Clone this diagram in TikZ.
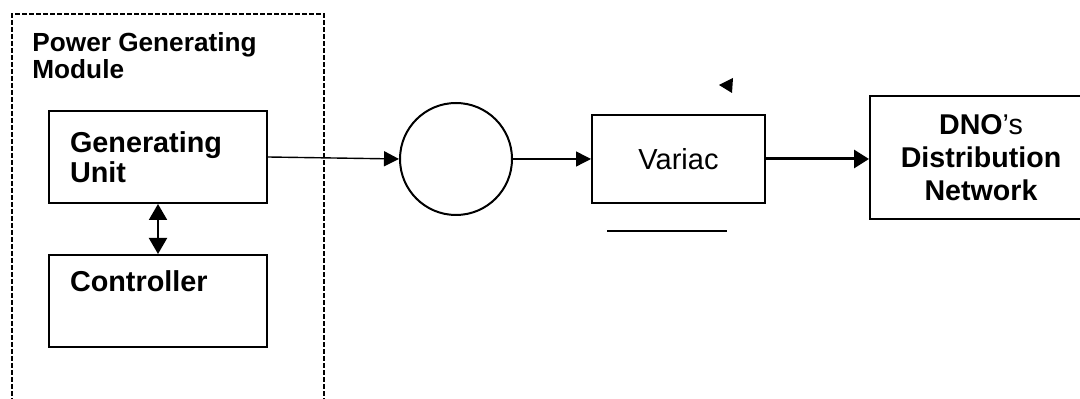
\documentclass[tikz,border=0pt]{standalone}
\usepackage{fontspec}
\setmainfont{Liberation Sans}
\usetikzlibrary{arrows.meta,positioning}
\definecolor{ink}{HTML}{000000}
\tikzset{
  unit/.style={draw=ink, line width=1pt, inner ysep=0pt, inner xsep=10.5pt,
               text width=88pt, minimum height=46pt, align=left,
               font=\bfseries\fontsize{14.4}{15}\selectfont},
  stage/.style={draw=ink, line width=1pt, inner sep=0pt, align=center},
  module/.style={draw=ink, line width=0.8pt, dash pattern=on 2.5pt off 1pt, inner sep=0pt},
  flow/.style={-{Triangle[length=7.5pt,width=7.5pt]}, line width=0.7pt, draw=ink},
  power/.style={-{Triangle[length=7.5pt,width=9pt]}, line width=1.5pt, draw=ink},
  link/.style={{Triangle[length=8pt,width=9pt]}-{Triangle[length=8pt,width=9pt]},
               line width=1pt, draw=ink}
}

\begin{document}
\begin{tikzpicture}[x=0.5pt,y=-0.5pt]
  \useasboundingbox (0,0) rectangle (1080,399);
  \clip (0,0) rectangle (1080,399);

  % power generating module
  \node[module, minimum width=156pt, minimum height=210pt, anchor=north west] (pgm) at (11,13) {};
  \node[anchor=north west, inner sep=0pt, align=left,
        font=\bfseries\fontsize{13.1}{13.5}\selectfont] (pgmlabel) at (32,32)
    {Power Generating\\Module};
  \node[unit] (gen) at (158,157) {Generating\\Unit};
  \node[unit] (ctrl) at (158,301) {Controller\\\strut};
  \draw[link] (gen.south) -- (ctrl.north);

  % conversion chain
  \node[stage, circle, minimum size=56pt] (src) at (456,159) {};
  \node[stage, minimum width=86.5pt, minimum height=44pt,
        font=\fontsize{14.5}{16}\selectfont] (var) at (678.5,159) {Variac};
  \node[stage, minimum width=111pt, minimum height=61.5pt,
        font=\fontsize{14.3}{16.5}\selectfont] (dno) at (981,157.5)
    {\textbf{DNO}’s\\\textbf{Distribution}\\\textbf{Network}};

  \draw[flow] (gen.east) -- (src.west);
  \draw[flow] (src.east) -- (var.west);
  \draw[power] (var.east) -- (var.east -| dno.west);

  % loose marks near the variac
  \fill[ink] (719,85) -- (733,78) -- (732,93) -- cycle;
  \draw[ink, line width=0.8pt] (607,231) -- (727,231);
\end{tikzpicture}
\end{document}
